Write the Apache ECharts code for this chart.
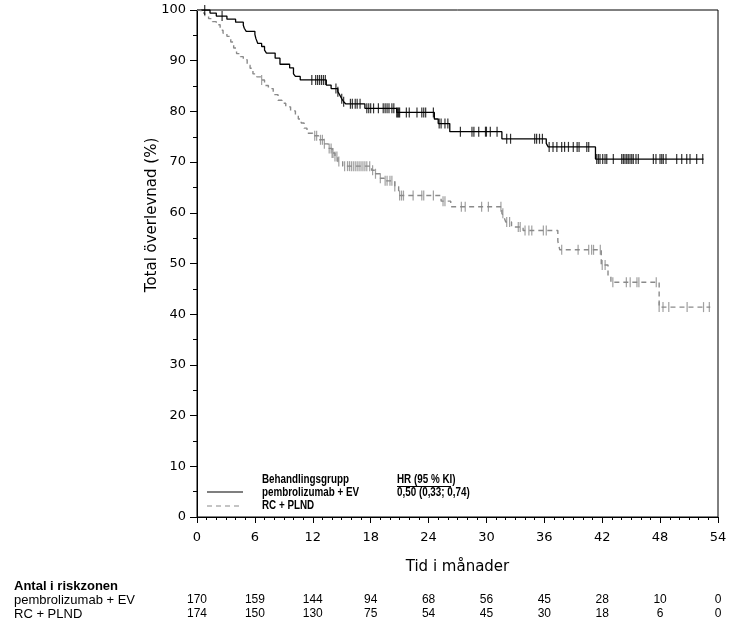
<!DOCTYPE html>
<html>
<head>
<meta charset="utf-8">
<script src="https://cdn.jsdelivr.net/npm/echarts@6/dist/echarts.min.js"></script>
<style>
  html, body { margin: 0; padding: 0; background: #fff; }
  .demo { width: 750px; height: 629px; }
</style>
</head>
<body>
<div class="demo"></div>
<script>
// survival steps [month, %]
const pembroSteps = [[0,100],[1.35,99.4],[2.0,98.8],[3.1,98.2],[4.0,97.6],[4.8,97.0],[4.9,96.4],[5.1,95.8],[6.0,95.2],[6.1,94.4],[6.3,93.4],[6.7,92.8],[7.0,92.1],[7.2,91.5],[8.1,90.5],[8.6,89.3],[9.6,88.6],[10.0,87.4],[10.2,86.9],[10.7,86.2],[13.4,85.2],[13.9,84.5],[14.6,83.9],[14.8,83.2],[15.0,82.5],[15.2,81.9],[15.4,81.5],[17.4,80.6],[20.7,79.8],[24.6,78.5],[25.0,77.6],[26.2,76.0],[31.6,74.6],[36.2,73.7],[36.4,73.0],[41.3,70.6],[52.5,70.6]]
const rcSteps = [[0,100],[0.4,99.4],[0.8,98.9],[1.2,98.3],[1.6,97.7],[2.0,97.1],[2.4,96.0],[2.7,95.4],[3.1,94.8],[3.5,93.7],[3.8,92.5],[4.1,91.4],[4.5,90.8],[4.8,90.2],[5.2,89.1],[5.5,88.5],[5.8,87.4],[6.2,86.8],[6.6,86.2],[7.0,85.1],[7.4,84.5],[7.9,83.3],[8.4,82.2],[8.8,81.6],[9.2,80.9],[9.7,80.1],[10.2,79.3],[10.5,78.5],[10.8,77.7],[11.1,76.7],[11.4,75.7],[12.0,75.2],[12.6,74.4],[13.2,73.6],[13.6,72.7],[14.0,71.8],[14.3,71.1],[14.6,70.1],[15.1,69.2],[18.1,68.4],[18.5,67.7],[19.0,66.8],[19.4,66.3],[20.5,65.2],[20.9,64.2],[21.0,63.4],[25.3,62.3],[26.3,61.2],[31.6,59.9],[31.8,59.2],[32.0,58.2],[32.6,57.2],[33.8,56.5],[37.4,54.4],[37.6,52.7],[41.9,49.7],[42.6,47.7],[42.9,46.3],[47.9,41.4],[53.2,41.4]]

// censoring times (months)
const pembroCensor = [0.8,2.6,11.9,12.3,12.5,12.7,12.9,13.1,13.3,14.4,14.6,15.0,15.2,15.9,16.1,16.4,16.6,16.9,17.6,17.8,18.0,18.3,18.8,19.3,19.5,19.7,19.9,20.2,20.4,20.7,20.8,20.9,21.0,21.7,22.0,22.8,23.3,23.5,23.7,24.5,25.1,25.3,25.7,26.0,27.3,28.5,28.7,29.2,29.9,30.0,30.4,31.1,32.1,32.5,35.0,35.2,35.5,35.8,36.5,36.9,37.3,37.8,38.1,38.5,39.0,39.4,39.6,40.4,40.6,41.43,41.6,41.77,42.05,42.29,42.47,43.15,44.02,44.19,44.36,44.54,44.7,44.88,45.06,45.22,45.5,45.74,47.3,47.57,47.99,48.17,48.33,48.61,49.72,50.24,50.76,51.1,51.79,52.42]
const rcCensor = [6.7,12.2,12.4,12.8,13.0,13.2,13.7,13.9,14.0,14.1,14.3,14.5,14.7,15.3,15.6,15.8,16.0,16.2,16.4,16.6,16.8,17.0,17.2,17.4,17.6,17.9,18.2,18.5,19.0,19.5,19.7,20.0,20.2,20.5,21.0,21.2,21.4,22.4,23.3,23.5,24.5,25.5,25.7,27.4,27.8,29.5,30.2,31.5,31.7,32.1,32.4,33.3,33.5,34.0,34.4,34.7,35.9,36.2,37.8,39.5,40.6,40.9,41.1,41.8,42.0,42.3,43.1,44.5,44.9,45.6,45.8,47.6,47.9,48.3,48.9,50.8,52.5,53.1]

const riskMonths = [0,6,12,18,24,30,36,42,48,54]
const riskPembro = [170,159,144,94,68,56,45,28,10,0]
const riskRC = [174,150,130,75,54,45,30,18,6,0]

const pembroName = 'pembrolizumab + EV'
const rcName = 'RC + PLND'

function survAt(steps, t) {
  let v = steps[0][1]
  for (const s of steps) { if (s[0] <= t) v = s[1] }
  return v
}

const chartinstance = echarts.init(document.querySelector('.demo'))
const axisFont = 'DejaVu Sans'
const narrow = '"Liberation Sans Narrow", "Liberation Sans", Arial, sans-serif'
const grayCol = '#8a8a8a'

const option = {
  animation: false,
  grid: { left: 197, right: 32, top: 10, bottom: 112, show: true, borderColor: '#000', borderWidth: 1 },
  xAxis: {
    type: 'value', min: 0, max: 54, interval: 6,
    axisLine: { lineStyle: { color: '#000', width: 1 } },
    axisTick: { length: 6, lineStyle: { color: '#000' } },
    minorTick: { show: true, splitNumber: 6, length: 3, lineStyle: { color: '#000' } },
    splitLine: { show: false },
    axisLabel: { color: '#000', fontFamily: axisFont, fontSize: 13, margin: 14 },
    name: 'Tid i månader', nameLocation: 'middle', nameGap: 43,
    nameTextStyle: { color: '#000', fontFamily: axisFont, fontSize: 15 }
  },
  yAxis: {
    type: 'value', min: 0, max: 100, interval: 10,
    axisLine: { show: true, lineStyle: { color: '#000', width: 1 } },
    axisTick: { show: true, length: 7, lineStyle: { color: '#000' } },
    minorTick: { show: true, splitNumber: 2, length: 4, lineStyle: { color: '#000' } },
    splitLine: { show: false },
    axisLabel: { color: '#000', fontFamily: axisFont, fontSize: 13, margin: 11 }
  },
  series: [
    {
      name: pembroName, type: 'line', step: 'end', symbol: 'none',
      data: pembroSteps,
      lineStyle: { color: '#000', width: 1.3 }
    },
    {
      name: rcName, type: 'line', step: 'end', symbol: 'none',
      data: rcSteps,
      lineStyle: { color: grayCol, width: 1.4, type: [5, 4] }
    },
    {
      name: pembroName + ' censor', type: 'scatter', symbol: 'rect', symbolSize: [1.2, 10],
      data: pembroCensor.map(t => [t, survAt(pembroSteps, t)]),
      itemStyle: { color: '#000' }, z: 3
    },
    {
      name: rcName + ' censor', type: 'scatter', symbol: 'rect', symbolSize: [1.2, 10],
      data: rcCensor.map(t => [t, survAt(rcSteps, t)]),
      itemStyle: { color: grayCol }, z: 3
    }
  ]
}
option && chartinstance.setOption(option)

// legend box, y-axis title and risk table
const g = []
g.push({ type: 'text', x: 152, y: 215, rotation: Math.PI / 2,
  style: { text: 'Total överlevnad (%)', fontFamily: axisFont, fontSize: 15, fill: '#000', align: 'center', verticalAlign: 'middle' } })
g.push({ type: 'line', shape: { x1: 207, y1: 492, x2: 243, y2: 492 }, style: { stroke: '#000', lineWidth: 1.2 } })
g.push({ type: 'line', shape: { x1: 207, y1: 506, x2: 243, y2: 506 }, style: { stroke: grayCol, lineWidth: 1.2, lineDash: [5, 4] } })
const legendRows = [['Behandlingsgrupp', 480], [pembroName, 493], [rcName, 506]]
legendRows.forEach(r => g.push({ type: 'text', x: 262, y: r[1], scaleX: 0.82,
  style: { text: r[0], fontFamily: narrow, fontWeight: 'bold', fontSize: 12, fill: '#000', verticalAlign: 'middle' } }))
g.push({ type: 'text', x: 397, y: 480, scaleX: 0.82,
  style: { text: 'HR (95 % KI)', fontFamily: narrow, fontWeight: 'bold', fontSize: 12, fill: '#000', verticalAlign: 'middle' } })
g.push({ type: 'line', shape: { x1: 397, y1: 486.5, x2: 451, y2: 486.5 }, style: { stroke: '#000', lineWidth: 1 } })
g.push({ type: 'text', x: 397, y: 493, scaleX: 0.82,
  style: { text: '0,50 (0,33; 0,74)', fontFamily: narrow, fontWeight: 'bold', fontSize: 12, fill: '#000', verticalAlign: 'middle' } })

g.push({ type: 'text', x: 14, y: 586,
  style: { text: 'Antal i riskzonen', fontFamily: narrow, fontWeight: 'bold', fontSize: 13, fill: '#000', verticalAlign: 'middle' } })
g.push({ type: 'text', x: 14, y: 600,
  style: { text: pembroName, fontFamily: narrow, fontSize: 13, fill: '#000', verticalAlign: 'middle' } })
g.push({ type: 'text', x: 14, y: 614,
  style: { text: rcName, fontFamily: narrow, fontSize: 13, fill: '#000', verticalAlign: 'middle' } })
riskMonths.forEach((m, i) => {
  const px = chartinstance.convertToPixel({ xAxisIndex: 0 }, m)
  g.push({ type: 'text', x: px, y: 600,
    style: { text: String(riskPembro[i]), fontFamily: narrow, fontSize: 12, fill: '#000', align: 'center', verticalAlign: 'middle' } })
  g.push({ type: 'text', x: px, y: 614,
    style: { text: String(riskRC[i]), fontFamily: narrow, fontSize: 12, fill: '#000', align: 'center', verticalAlign: 'middle' } })
})
chartinstance.setOption({ graphic: g })

window.addEventListener('resize', () => {
  chartinstance.resize()
})
</script>
</body>
</html>
